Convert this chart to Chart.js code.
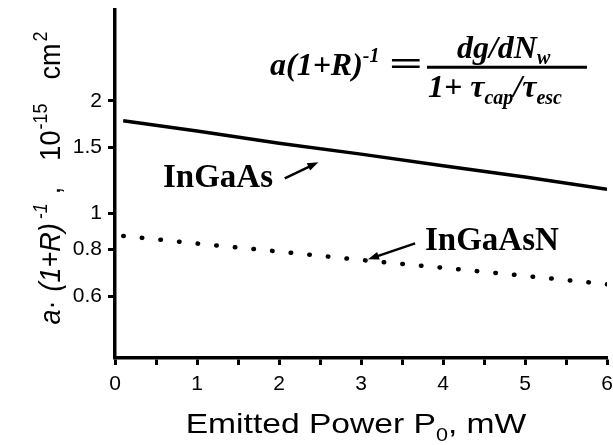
<!DOCTYPE html>
<html>
<head>
<meta charset="utf-8">
<script src="https://cdn.jsdelivr.net/npm/chart.js@4.4.0/dist/chart.umd.min.js"></script>
<style>
  html, body { margin: 0; padding: 0; background: #fff; }
  #wrap { width: 613px; height: 445px; }
</style>
</head>
<body>
<div id="wrap"><canvas id="chart" width="613" height="445"></canvas></div>
<script>
// emitted power, mW
const powerValues = [0.1, 1, 2, 3, 4, 5, 6];
// a(1+R)^-1, 10^-15 cm^2
const ingaasValues = [1.77, 1.66, 1.54, 1.44, 1.34, 1.25, 1.16];
const ingaasnValues = [0.87, 0.83, 0.79, 0.75, 0.715, 0.68, 0.646];
const yTickValues = [0.6, 0.8, 1, 1.5, 2];

const SERIF = '"Liberation Serif", "Times New Roman", serif';
const SANS = '"Liberation Sans", Arial, sans-serif';

Chart.defaults.font.family = SANS;
Chart.defaults.color = '#000';

const toPoints = ys => powerValues.map((x, i) => ({ x: x, y: ys[i] }));

// draw a row of text pieces one after another
function drawRuns(ctx, x, y, runs) {
    runs.forEach(r => {
        ctx.font = r.font;
        x += (r.pre || 0);
        ctx.fillText(r.text, x, y + (r.dy || 0));
        x += ctx.measureText(r.text).width;
    });
    return x;
}

function runsWidth(ctx, runs) {
    let w = 0;
    runs.forEach(r => {
        ctx.font = r.font;
        w += ctx.measureText(r.text).width + (r.pre || 0);
    });
    return w;
}

function arrow(ctx, x1, y1, x2, y2) {
    const ang = Math.atan2(y2 - y1, x2 - x1);
    const len = 11, half = 4;
    ctx.lineWidth = 2.5;
    ctx.beginPath();
    ctx.moveTo(x1, y1);
    ctx.lineTo(x2 - Math.cos(ang) * len * 0.7, y2 - Math.sin(ang) * len * 0.7);
    ctx.stroke();
    ctx.beginPath();
    ctx.moveTo(x2, y2);
    ctx.lineTo(x2 - Math.cos(ang) * len + Math.sin(ang) * half, y2 - Math.sin(ang) * len - Math.cos(ang) * half);
    ctx.lineTo(x2 - Math.cos(ang) * len - Math.sin(ang) * half, y2 - Math.sin(ang) * len + Math.cos(ang) * half);
    ctx.closePath();
    ctx.fill();
}

const annotations = {
    id: 'annotations',
    afterDraw(chart) {
        const ctx = chart.ctx;
        const xs = chart.scales.x, ys = chart.scales.y;
        const px = v => xs.getPixelForValue(v);
        const py = v => ys.getPixelForValue(v);
        ctx.save();
        ctx.fillStyle = '#000';
        ctx.strokeStyle = '#000';
        ctx.textBaseline = 'alphabetic';
        ctx.textAlign = 'left';

        // curve labels
        ctx.font = 'bold 33px ' + SERIF;
        ctx.fillText('InGaAs', px(0.585), py(1.174));
        arrow(ctx, px(2.07), py(1.241), px(2.48), py(1.37));
        ctx.fillText('InGaAsN', px(3.78), py(0.796));
        arrow(ctx, px(3.66), py(0.831), px(3.085), py(0.753));

        // formula
        const ax = px(1.89), ay = py(2.34);
        const bi = 'italic bold 32px ' + SERIF;
        const biS = 'italic bold 20px ' + SERIF;
        drawRuns(ctx, ax, ay, [
            { text: 'a(1+R)', font: bi },
            { text: '-1', font: biS, dy: -13 }
        ]);
        ctx.save();
        ctx.font = 'bold 34px ' + SERIF;
        ctx.textBaseline = 'middle';
        ctx.translate(ax + 119, ay - 9);
        ctx.scale(1.75, 1);
        ctx.fillText('=', 0, 0);
        ctx.restore();
        ctx.lineWidth = 3;
        ctx.beginPath();
        ctx.moveTo(ax + 157, ay - 8);
        ctx.lineTo(ax + 317, ay - 8);
        ctx.stroke();
        drawRuns(ctx, ax + 187, ay - 17, [
            { text: 'dg/dN', font: bi },
            { text: 'w', font: biS, dy: 6 }
        ]);
        drawRuns(ctx, ax + 158, ay + 22, [
            { text: '1+ ', font: bi },
            { text: 'τ', font: bi },
            { text: 'cap', font: biS, dy: 7 },
            { text: '/τ', font: bi },
            { text: 'esc', font: biS, dy: 7 }
        ]);

        // y axis title (glyphs a little wide, as in the original figure)
        const f = '27px ' + SANS, fi = 'italic 27px ' + SANS;
        const fs = '18px ' + SANS, fsi = 'italic 18px ' + SANS;
        const yRuns = [
            { text: 'a', font: fi },
            { text: '·', font: f },
            { text: '(1+R)', font: fi, pre: 9 },
            { text: '-1', font: fsi, dy: -12, pre: 4 },
            { text: ',', font: f, pre: 9 },
            { text: '10', font: f, pre: 26 },
            { text: '-15', font: fs, dy: -12, pre: 1 },
            { text: 'cm', font: f, pre: 24 },
            { text: '2', font: fs, dy: -12, pre: 2 }
        ];
        ctx.translate(60, 178);
        ctx.rotate(-Math.PI / 2);
        ctx.scale(1, 1.12);
        drawRuns(ctx, -runsWidth(ctx, yRuns) / 2, 0, yRuns);
        ctx.restore();

        // x axis title
        ctx.save();
        ctx.fillStyle = '#000';
        const xf = '28px ' + SANS, xfs = '18px ' + SANS;
        const xRuns = [
            { text: 'Emitted Power P', font: xf },
            { text: '0', font: xfs, dy: 8 },
            { text: ', mW', font: xf }
        ];
        const cx = (chart.chartArea.left + chart.chartArea.right) / 2 - 5;
        ctx.translate(cx, 433);
        ctx.scale(1.2, 1);
        drawRuns(ctx, -runsWidth(ctx, xRuns) / 2, 0, xRuns);
        ctx.restore();
    }
};

const axisGrid = { drawOnChartArea: false, drawTicks: true, tickLength: 7, tickWidth: 3, color: '#000' };
const axisBorder = { display: true, width: 3.5, color: '#000' };

new Chart(document.getElementById('chart'), {
    type: 'line',
    data: {
        datasets: [
            {
                label: 'InGaAs',
                data: toPoints(ingaasValues),
                borderColor: '#000',
                borderWidth: 3.5,
                pointRadius: 0,
                tension: 0,
                fill: false
            },
            {
                label: 'InGaAsN',
                data: toPoints(ingaasnValues),
                borderColor: '#000',
                borderWidth: 4.5,
                borderDash: [0.5, 18.2],
                borderCapStyle: 'round',
                pointRadius: 0,
                tension: 0,
                fill: false
            }
        ]
    },
    options: {
        responsive: false,
        animation: false,
        devicePixelRatio: 1,
        layout: { padding: { top: 10, right: 6, left: 0, bottom: 0 } },
        plugins: { legend: { display: false }, tooltip: { enabled: false } },
        scales: {
            x: {
                type: 'linear',
                min: 0,
                max: 6,
                ticks: {
                    stepSize: 0.5,
                    autoSkip: false,
                    maxRotation: 0,
                    padding: 7,
                    font: { size: 21 },
                    color: '#000',
                    callback: v => Number.isInteger(v) ? String(v) : ''
                },
                grid: axisGrid,
                border: axisBorder,
                afterFit: s => { s.height = 87; s.paddingLeft = 0; s.paddingRight = 0; }
            },
            y: {
                type: 'logarithmic',
                min: 0.41,
                max: 3.5,
                afterBuildTicks: s => { s.ticks = yTickValues.map(v => ({ value: v })); },
                ticks: {
                    padding: 6,
                    font: { size: 21 },
                    color: '#000',
                    callback: v => String(v)
                },
                grid: axisGrid,
                border: axisBorder,
                afterFit: s => { s.width = 115; s.paddingTop = 0; s.paddingBottom = 0; }
            }
        }
    },
    plugins: [annotations]
});
</script>
</body>
</html>
